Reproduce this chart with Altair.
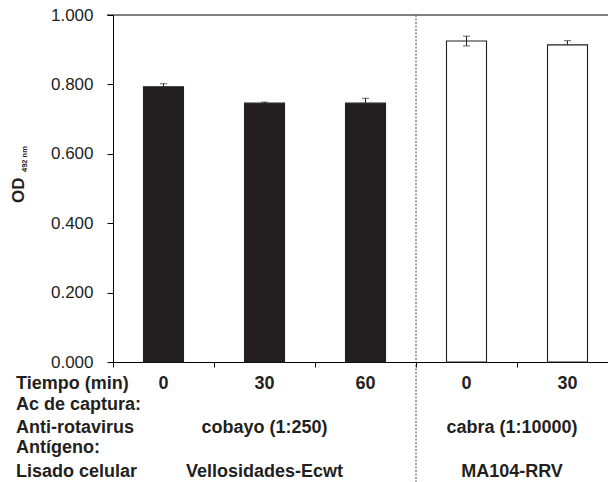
import altair as alt
import pandas as pd

# Data
cats = ["g1_0", "g1_30", "g1_60", "g2_0", "g2_30"]
time_labels = ["0", "30", "60", "0", "30"]
groups = ["Vellosidades-Ecwt", "Vellosidades-Ecwt", "Vellosidades-Ecwt", "MA104-RRV", "MA104-RRV"]
od_values = [0.793, 0.746, 0.746, 0.925, 0.914]
err_up = [0.009, 0.003, 0.014, 0.014, 0.012]
err_low = [0.009, 0.003, 0.014, 0.014, 0.0]

row_titles = ["Tiempo (min)", "Ac de captura:", "Anti-rotavirus", "Antígeno:", "Lisado celular"]
row_baselines = [389, 410, 433, 453, 477]  # page pixel baselines

group_ab = ["cobayo (1:250)", "cabra (1:10000)"]
group_ag = ["Vellosidades-Ecwt", "MA104-RRV"]
group_anchor = ["g1_30", "g2_30"]
group_band_pos = [0.5, 0.0]
group_dx = [0, -5]

FONT = "Liberation Sans"
INK = "#231f20"
TOP = 15
LEFT = 113

df = pd.DataFrame({
    "cat": cats,
    "label": time_labels,
    "group": groups,
    "od": od_values,
    "hi": [v + e for v, e in zip(od_values, err_up)],
    "lo": [v - e for v, e in zip(od_values, err_low)],
    "has_lo": [e > 0 for e in err_low],
})

xscale = alt.Scale(domain=cats, range=[0, 505], paddingInner=0, paddingOuter=0)
yscale = alt.Scale(domain=[0, 1])

base = alt.Chart(df)

bars = base.mark_bar(width=40, stroke=INK, strokeWidth=1.1).encode(
    x=alt.X("cat:N", scale=xscale, sort=cats,
            axis=alt.Axis(labels=False, title=None, bandPosition=0, tickSize=5,
                          domainColor="black", tickColor="black", domainWidth=1, tickWidth=1)),
    y=alt.Y("od:Q", scale=yscale,
            axis=alt.Axis(values=[0, 0.2, 0.4, 0.6, 0.8, 1.0], format=".3f", title=None,
                          grid=False, tickSize=6, labelPadding=14, labelFont=FONT,
                          labelFontSize=17, labelColor=INK, domainColor="black",
                          tickColor="black", domainWidth=1, tickWidth=1)),
    fill=alt.Fill("group:N", scale=alt.Scale(domain=["Vellosidades-Ecwt", "MA104-RRV"],
                                             range=[INK, "white"]), legend=None),
)

err_rule = base.mark_rule(color=INK, strokeWidth=1).encode(
    x=alt.X("cat:N", scale=xscale, sort=cats),
    y=alt.Y("lo:Q", scale=yscale),
    y2="hi:Q",
)
cap_hi = base.mark_tick(color=INK, size=7, thickness=1).encode(
    x=alt.X("cat:N", scale=xscale, sort=cats),
    y=alt.Y("hi:Q", scale=yscale),
)
cap_lo = base.mark_tick(color=INK, size=7, thickness=1).encode(
    x=alt.X("cat:N", scale=xscale, sort=cats),
    y=alt.Y("lo:Q", scale=yscale),
).transform_filter("datum.has_lo")

top_line = alt.Chart(pd.DataFrame({"v": [1.0]})).mark_rule(color="black", strokeWidth=1).encode(
    y=alt.Y("v:Q", scale=yscale),
    x=alt.value(-6),
    x2=alt.value(505),
)

divider = alt.Chart(pd.DataFrame({"cat": ["g2_0"]})).mark_rule(
    color="#444", strokeWidth=1, strokeDash=[2, 1.5]
).encode(
    x=alt.X("cat:N", scale=xscale, sort=cats, bandPosition=0),
    y=alt.value(0),
    y2=alt.value(482 - TOP),
)

time_text = base.mark_text(font=FONT, fontSize=18, fontWeight="bold", color=INK,
                           baseline="alphabetic", align="center").encode(
    x=alt.X("cat:N", scale=xscale, sort=cats),
    y=alt.value(row_baselines[0] - TOP),
    text="label:N",
)

rows_df = pd.DataFrame({"t": row_titles, "yb": [b - TOP for b in row_baselines]})
row_text = alt.Chart(rows_df).mark_text(font=FONT, fontSize=18, fontWeight="bold", color=INK,
                                        baseline="alphabetic", align="left").encode(
    x=alt.value(16 - LEFT),
    y=alt.Y("yb:Q", scale=None),
    text="t:N",
)

grp_df = pd.DataFrame({"cat": group_anchor, "ab": group_ab, "ag": group_ag,
                       "bp": group_band_pos, "dx": group_dx})
grp_layers = []
for i in range(len(group_anchor)):
    sub = grp_df.iloc[[i]]
    for col, yb in (("ab", 433), ("ag", 477)):
        grp_layers.append(
            alt.Chart(sub).mark_text(font=FONT, fontSize=18, fontWeight="bold", color=INK,
                                     baseline="alphabetic", align="center",
                                     dx=int(group_dx[i])).encode(
                x=alt.X("cat:N", scale=xscale, sort=cats, bandPosition=group_band_pos[i]),
                y=alt.value(yb - TOP),
                text=f"{col}:N",
            )
        )

ytitle_od = alt.Chart(pd.DataFrame({"t": ["OD"]})).mark_text(
    font=FONT, fontSize=17, fontWeight="bold", color=INK, angle=270,
    align="left", baseline="alphabetic").encode(
    x=alt.value(24 - LEFT), y=alt.value(203 - TOP), text="t:N")
ytitle_sub = alt.Chart(pd.DataFrame({"t": ["492 nm"]})).mark_text(
    font=FONT, fontSize=7.5, fontWeight="bold", color=INK, angle=270,
    align="left", baseline="alphabetic").encode(
    x=alt.value(27 - LEFT), y=alt.value(172 - TOP), text="t:N")

chart = alt.layer(
    bars, err_rule, cap_hi, cap_lo, top_line, divider, time_text, row_text,
    *grp_layers, ytitle_od, ytitle_sub
).properties(
    width=495,
    height=347,
    autosize=alt.AutoSizeParams(type="none"),
    padding={"left": LEFT, "top": TOP, "right": 0, "bottom": 482 - TOP - 347},
    background="white",
).configure_view(stroke=None)

chart.save("out.html", embed_options={"renderer": "svg", "actions": False})
